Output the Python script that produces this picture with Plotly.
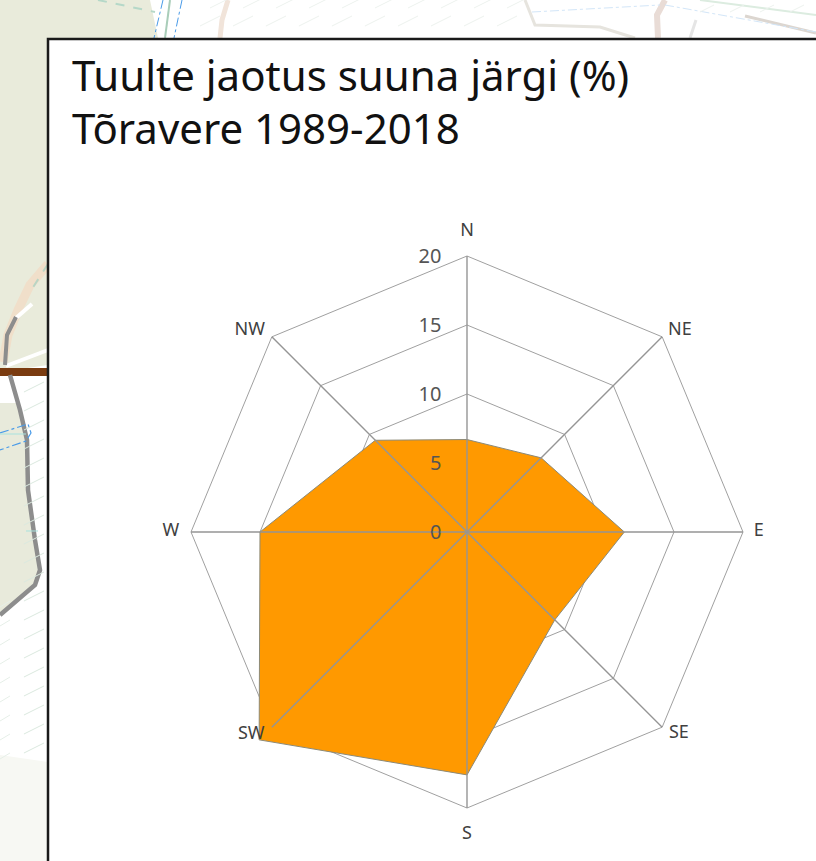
import plotly.graph_objects as go

W, H = 816, 861

directions = ["N", "NE", "E", "SE", "S", "SW", "W", "NW"]
wind_share = [6.7, 7.6, 11.4, 9.0, 17.6, 21.3, 15.0, 9.4]
radial_ticks = [0, 5, 10, 15, 20]
title_lines = ["Tuulte jaotus suuna järgi (%)", "Tõravere 1989-2018"]

FONT = "Noto Sans"
CENTER_X, CENTER_Y = 467, 532
UNIT_PX = 13.8          # pixels per percent on the radial scale
OUTER = 22              # axis maximum, leaves room for the SW value and the labels


def path(points, close=False):
    s = "M " + " L ".join(f"{x / W:.5f},{1 - y / H:.5f}" for x, y in points)
    return s + (" Z" if close else "")


shapes = []


def area(points, color):
    shapes.append(dict(type="path", xref="paper", yref="paper", layer="below",
                       path=path(points, True), fillcolor=color, line_width=0))


def stroke(points, color, width, dash="solid"):
    shapes.append(dict(type="path", xref="paper", yref="paper", layer="below",
                       path=path(points), line=dict(color=color, width=width, dash=dash)))


# Map backdrop behind the chart panel
area([(0, 0), (150, 0), (158, 38), (48, 38), (48, 365), (0, 372)], "#e9ebdb")
area([(0, 403), (18, 403), (27, 440), (28, 490), (35, 540), (40, 570), (35, 585), (0, 615)], "#e8eadb")
area([(0, 755), (48, 762), (48, 861), (0, 861)], "#f7f8f3")
stroke([(48, 264), (30, 285), (18, 310), (8, 335), (3, 362)], "#f0dfca", 9)
stroke([(48, 350), (6, 366)], "#ffffff", 4)
stroke([(16, 318), (32, 304)], "#ffffff", 4)
stroke([(48, 264), (30, 292)], "#b9d5c4", 2, "dash")
stroke([(0, 372), (48, 372)], "#7a3b10", 8)
stroke([(5, 365), (7, 335), (16, 317)], "#8d8d8d", 4)
stroke([(10, 375), (20, 410), (27, 440), (28, 490), (35, 540), (40, 570), (35, 585), (0, 615)], "#8d8d8d", 4.5)
stroke([(0, 433), (28, 424), (31, 433), (26, 441), (0, 450)], "#4a9be8", 1.2, "dashdot")
stroke([(0, 434), (26, 434)], "#a8e2de", 1)
stroke([(26, 531), (38, 531)], "#a8e2de", 1)
stroke([(98, 0), (155, 12)], "#b5d8c8", 2, "dash")
stroke([(163, 0), (154, 38)], "#4a9be8", 1, "dashdot")
stroke([(182, 0), (174, 38)], "#4a9be8", 1, "dashdot")
stroke([(170, 0), (165, 38)], "#a9cdb9", 2)
stroke([(228, 0), (222, 20), (220, 38)], "#f1e4da", 5)
stroke([(525, 0), (535, 25), (600, 27), (635, 38)], "#e6e4de", 3)
stroke([(665, 0), (657, 15), (658, 38)], "#e9dcd6", 6)
stroke([(696, 20), (690, 38)], "#e5e5e5", 3)
stroke([(745, 16), (816, 33)], "#dcd6d0", 3)
stroke([(532, 12), (660, 5)], "#d3e6f8", 1, "dashdot")
stroke([(665, 5), (816, 32)], "#d3e6f8", 1, "dashdot")
stroke([(700, 0), (816, 15)], "#dcece0", 2)

# Faint drainage hatching
for row in range(0, 2):
    for col in range(0, 12):
        x0 = 200 + col * 33 + (row * 10)
        if x0 > 520:
            continue
        stroke([(x0, 26 + row * -18), (x0 + 20, 16 + row * -18)], "#edf2ee", 1)
for col in range(0, 5):
    x0 = 700 + col * 30
    stroke([(x0, 12), (x0 + 14, 5)], "#edf2ee", 1)
for step in range(0, 31):
    y0 = 392 + step * 19
    if y0 < 755:
        stroke([(24, y0), (44, y0 - 10)], "#dbe9df", 1)
        if y0 > 590:
            stroke([(0, y0 + 6), (10, y0)], "#e6efe8", 1)

# White chart panel with a black frame
shapes.append(dict(type="rect", xref="paper", yref="paper", layer="below",
                   x0=48 / W, x1=1.02, y0=-0.02, y1=1 - 39 / H,
                   fillcolor="white", line=dict(color="#1a1a1a", width=2.5)))

fig = go.Figure()

closed_theta = directions + directions[:1]
closed_r = wind_share + wind_share[:1]

fig.add_trace(go.Scatterpolar(
    r=closed_r, theta=closed_theta, mode="lines", fill="toself",
    fillcolor="#ff9900", line=dict(color="#8c8a78", width=1),
    cliponaxis=False, hoverinfo="skip", showlegend=False,
))

for name in directions:
    fig.add_trace(go.Scatterpolar(
        r=[radial_ticks[0], radial_ticks[-1]], theta=[name, name], mode="lines",
        line=dict(color="#959595", width=1.4), cliponaxis=False,
        hoverinfo="skip", showlegend=False,
    ))

# Direction labels sit at varying distances from the ring in the reference
label_offset = {"N": 21.8, "NE": 20.6, "E": 21.15, "SE": 20.7,
                "S": 21.95, "SW": 20.75, "W": 21.45, "NW": 20.7}
label_anchor = {"N": "middle center", "NE": "middle right", "E": "middle center",
                "SE": "middle right", "S": "middle center", "SW": "middle left",
                "W": "middle center", "NW": "middle left"}
fig.add_trace(go.Scatterpolar(
    r=[label_offset[d] for d in directions], theta=directions, mode="text",
    text=directions, textposition=[label_anchor[d] for d in directions],
    textfont=dict(family=FONT, size=18, color="#404040"),
    cliponaxis=False, hoverinfo="skip", showlegend=False,
))

annotations = [
    dict(text=title_lines[0], x=70 / W, y=1 - 75 / H),
    dict(text=title_lines[1], x=70 / W, y=1 - 127 / H),
]
for a in annotations:
    a.update(xref="paper", yref="paper", xanchor="left", yanchor="middle", showarrow=False,
             font=dict(family=FONT, size=42, color="#111111"))

half = OUTER * UNIT_PX
fig.update_layout(
    width=W, height=H, margin=dict(l=0, r=0, t=0, b=0),
    paper_bgcolor="white", plot_bgcolor="white",
    shapes=shapes, annotations=annotations, showlegend=False,
    polar=dict(
        domain=dict(x=[(CENTER_X - half) / W, (CENTER_X + half) / W],
                    y=[1 - (CENTER_Y + half) / H, 1 - (CENTER_Y - half) / H]),
        bgcolor="rgba(0,0,0,0)",
        gridshape="linear",
        angularaxis=dict(
            direction="clockwise", rotation=90, type="category",
            categoryorder="array", categoryarray=directions,
            showgrid=False, showline=False, showticklabels=False, ticks="",
        ),
        radialaxis=dict(
            range=[radial_ticks[0], OUTER], angle=90, tickangle=90,
            tickmode="array", tickvals=radial_ticks, ticktext=[str(v) for v in radial_ticks],
            showline=False, showgrid=True, gridcolor="#a0a0a0", gridwidth=1.4,
            ticks="outside", ticklen=18, tickcolor="rgba(0,0,0,0)",
            side="counterclockwise",
            tickfont=dict(family=FONT, size=20, color="#555555"),
            layer="above traces",
        ),
    ),
)

fig.write_html("out.html", config=dict(displayModeBar=False),
               post_script="document.body.style.margin='0';document.documentElement.style.overflow='hidden';")
